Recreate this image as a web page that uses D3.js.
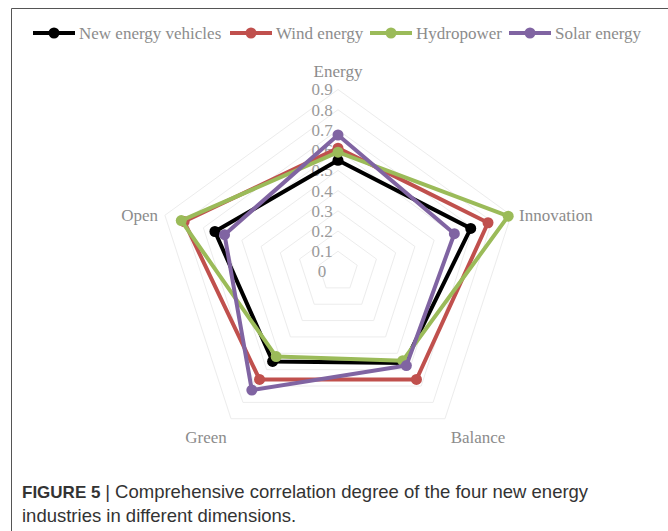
<!DOCTYPE html>
<html><head><meta charset="utf-8">
<script src="https://cdn.jsdelivr.net/npm/d3@7"></script>
<style>
html,body{margin:0;padding:0;background:#fff;}
svg{display:block;}
</style></head>
<body>
<svg id="chart" width="668" height="531"></svg>
<script>
const dimensions = ["Energy", "Innovation", "Balance", "Green", "Open"];
const seriesNames = ["New energy vehicles", "Wind energy", "Hydropower", "Solar energy"];
const colors = ["#000000", "#c0504d", "#9bbb59", "#8064a2"];
const vehicles = [0.55, 0.69, 0.56, 0.55, 0.64];
const wind = [0.61, 0.78, 0.66, 0.66, 0.80];
const hydro = [0.59, 0.885, 0.545, 0.52, 0.815];
const solar = [0.675, 0.605, 0.575, 0.725, 0.59];
const ticks = [0, 0.1, 0.2, 0.3, 0.4, 0.5, 0.6, 0.7, 0.8, 0.9];

const allSeries = [vehicles, wind, hydro, solar];
const svg = d3.select("#chart");
const cx = 338, cy = 271.5;
const r = d3.scaleLinear().domain([0, 0.9]).range([0, 182]);
const angle = d3.scaleBand().domain(dimensions).range([0, 2 * Math.PI]).align(0).paddingInner(0).paddingOuter(0);
const pt = (dim, v) => {
  const a = angle(dim);
  return [cx + r(v) * Math.sin(a), cy - r(v) * Math.cos(a)];
};

// frame
svg.append("line").attr("x1", 11.5).attr("y1", 8.5).attr("x2", 668).attr("y2", 8.5).attr("stroke", "#555").attr("stroke-width", 1);
svg.append("line").attr("x1", 11.5).attr("y1", 8.5).attr("x2", 11.5).attr("y2", 531).attr("stroke", "#555").attr("stroke-width", 1);

const serif = "'Liberation Serif', 'Times New Roman', serif";
const g = svg.append("g");

// grid rings
ticks.slice(1).forEach(t => {
  g.append("polygon")
    .attr("points", dimensions.map(d => pt(d, t).join(",")).join(" "))
    .attr("fill", "none").attr("stroke", "#ececec").attr("stroke-width", 1);
});

// tick labels
g.selectAll("text.tick").data(ticks).join("text")
  .attr("class", "tick")
  .attr("x", 322).attr("y", t => cy - r(t))
  .attr("dy", "0.35em")
  .attr("text-anchor", "middle")
  .attr("font-family", serif).attr("font-size", 17).attr("fill", "#9a9a9a")
  .text(t => t === 0 ? "0" : d3.format(".1f")(t));

// axis labels
const labelPos = {
  "Energy": {x: 338, y: 71, anchor: "middle"},
  "Innovation": {x: 519, y: 215, anchor: "start"},
  "Balance": {x: 478, y: 437, anchor: "middle"},
  "Green": {x: 206, y: 437, anchor: "middle"},
  "Open": {x: 158, y: 215, anchor: "end"}
};
dimensions.forEach(d => {
  const p = labelPos[d];
  g.append("text").attr("x", p.x).attr("y", p.y).attr("dy", "0.35em")
    .attr("text-anchor", p.anchor)
    .attr("font-family", serif).attr("font-size", 17).attr("fill", "#8c8c8c")
    .text(d);
});

// series
const line = d3.line().curve(d3.curveLinearClosed);
allSeries.forEach((vals, i) => {
  const pts = dimensions.map((d, j) => pt(d, vals[j]));
  g.append("path").attr("d", line(pts))
    .attr("fill", "none").attr("stroke", colors[i]).attr("stroke-width", 4)
    .attr("stroke-linejoin", "round");
  g.selectAll(null).data(pts).join("circle")
    .attr("cx", p => p[0]).attr("cy", p => p[1]).attr("r", 5.5)
    .attr("fill", colors[i]);
});

// legend
const legendX = [33, 230, 370, 509];
const legendY = 33;
seriesNames.forEach((name, i) => {
  const x = legendX[i];
  const lg = svg.append("g");
  lg.append("line").attr("x1", x).attr("x2", x + 42).attr("y1", legendY).attr("y2", legendY)
    .attr("stroke", colors[i]).attr("stroke-width", 4);
  lg.append("circle").attr("cx", x + 21).attr("cy", legendY).attr("r", 5.5).attr("fill", colors[i]);
  lg.append("text").attr("x", x + 46).attr("y", legendY).attr("dy", "0.35em")
    .attr("font-family", serif).attr("font-size", 17).attr("fill", "#8c8c8c")
    .text(name);
});

// caption
const sans = "'Liberation Sans', Arial, sans-serif";
const cap = svg.append("text").attr("x", 22).attr("y", 498)
  .attr("font-family", sans).attr("font-size", 18.5).attr("fill", "#333");
cap.append("tspan").attr("font-weight", "bold").attr("font-size", 17).text("FIGURE 5 ");
cap.append("tspan").text("| Comprehensive correlation degree of the four new energy");
svg.append("text").attr("x", 22).attr("y", 522)
  .attr("font-family", sans).attr("font-size", 18.5).attr("fill", "#333")
  .text("industries in different dimensions.");
</script>
</body></html>
